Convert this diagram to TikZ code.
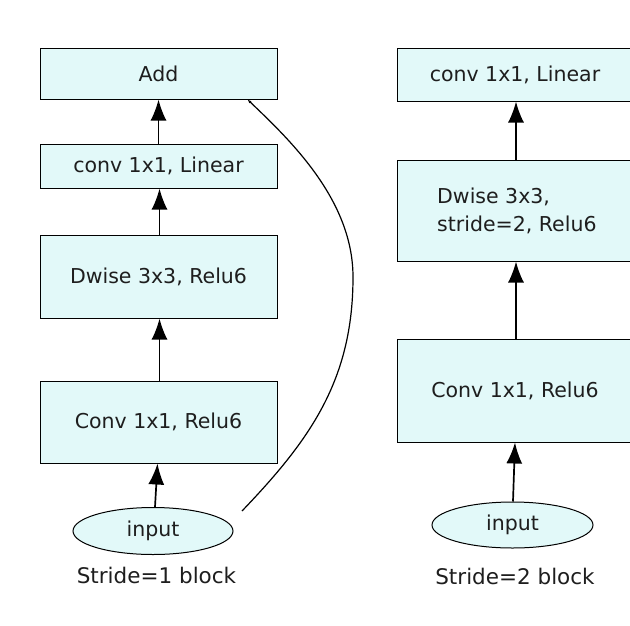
\documentclass[tikz,border=0pt]{standalone}
\usepackage{fontspec}
\setmainfont{DejaVu Sans}
\usetikzlibrary{arrows.meta,shapes.geometric,calc}
\definecolor{boxfill}{RGB}{226,249,249}
\definecolor{txt}{RGB}{30,30,30}
\begin{document}
\begin{tikzpicture}[x=1pt,y=-1pt,
  blk/.style={draw=black,line width=1pt,fill=boxfill,minimum width=237pt,inner sep=0pt,
    font=\fontsize{20.5}{28}\selectfont,text=txt},
  inp/.style={draw=black,line width=1pt,fill=boxfill,ellipse,inner sep=0pt,
    font=\fontsize{20.5}{24}\selectfont,text=txt},
  lbl/.style={font=\fontsize{21.5}{26}\selectfont,text=txt,inner sep=0pt},
  flow/.style={line width=1.7pt,-{Latex[length=21pt,width=16pt]}},
  skip/.style={line width=1.2pt,-{Latex[length=4pt,width=3pt]}}]
\useasboundingbox (0,0) rectangle (630,625);
\fill[white] (0,0) rectangle (630,625);
\begin{scope}
\clip (0,0) rectangle (630,625);
% left column
\node[blk,minimum height=51pt] (add) at (158.5,73.5) {Add};
\node[blk,minimum height=44pt] (lin1) at (158.5,166) {conv 1x1, Linear};
\node[blk,minimum height=83pt] (dw1) at (158.5,276.5) {Dwise 3x3, Relu6};
\node[blk,minimum height=82pt] (cv1) at (158.5,422) {Conv 1x1, Relu6};
\node[inp,minimum width=160pt,minimum height=47pt] (in1) at (153,531) {input};
\node[lbl] (s1) at (156.5,575) {Stride=1 block};
% right column
\node[blk,minimum width=236pt,minimum height=53pt] (lin2) at (515,74.5) {conv 1x1, Linear};
\node[blk,minimum width=236pt,minimum height=101pt] (dw2) at (515,210.5) {};
\node[anchor=west,align=left,inner sep=0pt,font=\fontsize{20.5}{28}\selectfont,text=txt] (dw2t) at (437,211) {Dwise 3x3,\\stride=2, Relu6};
\node[blk,minimum width=236pt,minimum height=103pt] (cv2) at (515,390.5) {Conv 1x1, Relu6};
\node[inp,minimum width=161pt,minimum height=46pt] (in2) at (512.5,525) {input};
\node[lbl] (s2) at (515,576) {Stride=2 block};
\end{scope}
% arrows left
\draw[flow] ($(in1.north)+(2,0)$) -- ($(cv1.south)+(-1,0)$);
\draw[flow] ($(cv1.north)+(1,0)$) -- ($(dw1.south)+(1,0)$);
\draw[flow] ($(dw1.north)+(1,0)$) -- ($(lin1.south)+(1,0)$);
\draw[flow] (lin1.north) -- (add.south);
% arrows right
\draw[flow] ($(in2.north)+(0.5,0)$) -- ($(cv2.south)+(0,0)$);
\draw[flow] ($(cv2.north)+(1,0)$) -- ($(dw2.south)+(1,0)$);
\draw[flow] ($(dw2.north)+(1,0)$) -- ($(lin2.south)+(1,0)$);
% skip connection
\coordinate (skipstart) at (242,511);
\coordinate (skipmid) at (353,277);
\draw[skip] (skipstart) .. controls (310,440) and (353,380) .. (skipmid)
  .. controls (353,200) and (290,140) .. ($(add.south east)+(-30,0)$);
\end{tikzpicture}
\end{document}
